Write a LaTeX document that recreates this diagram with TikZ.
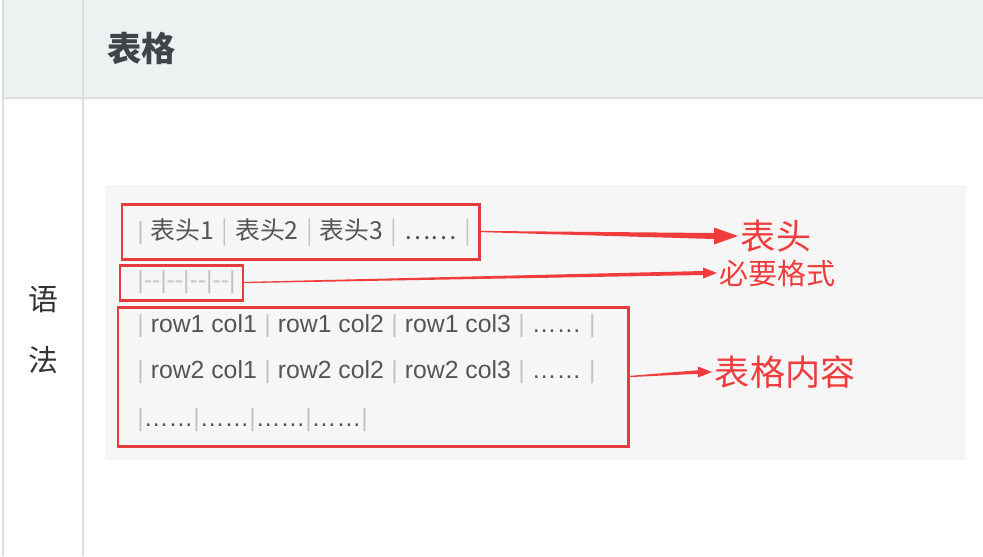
\documentclass[tikz,border=0pt]{standalone}
\usepackage{fontspec}
\setmainfont{Liberation Sans}
\newfontfamily\cjk{Noto Sans CJK SC}
\usetikzlibrary{positioning,arrows.meta,fit,calc}
\definecolor{hdrgray}{HTML}{EEF1F2}
\definecolor{rulegray}{HTML}{DCDFE0}
\definecolor{hdrtxt}{HTML}{3F4549}
\definecolor{codebg}{HTML}{F6F6F6}
\definecolor{codetxt}{HTML}{555555}
\definecolor{pipegray}{HTML}{C4C4C4}
\definecolor{boxred}{HTML}{E63B3F}
\definecolor{arrred}{HTML}{F03C3C}
\newcommand{\pp}{\textcolor{pipegray}{|}}
\newcommand{\sep}{\hspace{4.3pt}\pp\hspace{4pt}}
% tapered arrow: from, to, shaft half width, head length, head half width
\newcommand{\taperarrow}[5]{%
  \fill[arrred] ($(#1)+(0,-0.6)$) -- ($(#2)+(-#4,-#3)$) -- ($(#2)+(-#4,-#5)$) -- (#2)
    -- ($(#2)+(-#4,#5)$) -- ($(#2)+(-#4,#3)$) -- ($(#1)+(0,0.6)$) -- cycle;}

\begin{document}
\begin{tikzpicture}[x=0.02cm,y=-0.02cm,
  code/.style={anchor=west, inner sep=0pt, text=codetxt, font=\fontsize{14.1}{17}\selectfont},
  redbox/.style={draw=boxred, line width=1.7pt, inner sep=0pt},
  lbl/.style={anchor=west, inner sep=1.5pt, text=arrred}]
  \useasboundingbox (0,0) rectangle (983,556);
  \fill[white] (0,0) rectangle (983,556);
  % table frame
  \fill[hdrgray] (3,0) rectangle (983,98);
  \draw[rulegray, line width=0.8pt] (3,0) -- (3,556) (83,0) -- (83,556) (3,98) -- (983,98);
  \node[anchor=west, inner sep=0pt, text=hdrtxt, font=\cjk\bfseries\fontsize{19.5}{22}\selectfont] (title) at (107,48) {表格};
  \node[text=black!80, font=\cjk\fontsize{17}{20}\selectfont] (yu) at (43,300) {语};
  \node[text=black!80, font=\cjk\fontsize{17}{20}\selectfont] (fa) at (43,360) {法};
  % code block
  \fill[codebg] (105,185) rectangle (966,460);
  \node[code] (hd) at (137,233) {\pp\hspace{4pt}\cjk{表头}1\sep\cjk{表头}2\sep\cjk{表头}3\sep……\sep};
  \node[code, text=pipegray] (fmt) at (137,282) {|-{}-|-{}-|-{}-|-{}-|};
  \node[code] (r1) at (137,326) {\pp\hspace{4pt}row1 col1\sep row1 col2\sep row1 col3\sep……\sep};
  \node[code] (r2) at (137,372) {\pp\hspace{4pt}row2 col1\sep row2 col2\sep row2 col3\sep……\sep};
  \node[code] (r3) at (137,420) {\pp……\pp……\pp……\pp……\pp};
  % red boxes
  \node[redbox, fit={(122,204) (479,259)}] (hdbox) {};
  \node[redbox, fit={(120,265) (243,300)}] (fmtbox) {};
  \node[redbox, fit={(118,307) (628,446)}] (bodybox) {};
  % labels
  \node[lbl, font=\cjk\fontsize{20}{24}\selectfont] (lblhd) at (738,236) {表头};
  \node[lbl, font=\cjk\fontsize{16.5}{20}\selectfont] (lblfmt) at (717,273) {必要格式};
  \node[lbl, font=\cjk\fontsize{20}{24}\selectfont] (lblbody) at (712,372) {表格内容};
  % arrows
  \taperarrow{hdbox.east}{lblhd.west}{3}{24}{8.5}
  \taperarrow{fmtbox.east}{lblfmt.west}{2}{14}{5.5}
  \taperarrow{bodybox.east}{lblbody.west}{1.8}{14}{5.5}
\end{tikzpicture}
\end{document}
